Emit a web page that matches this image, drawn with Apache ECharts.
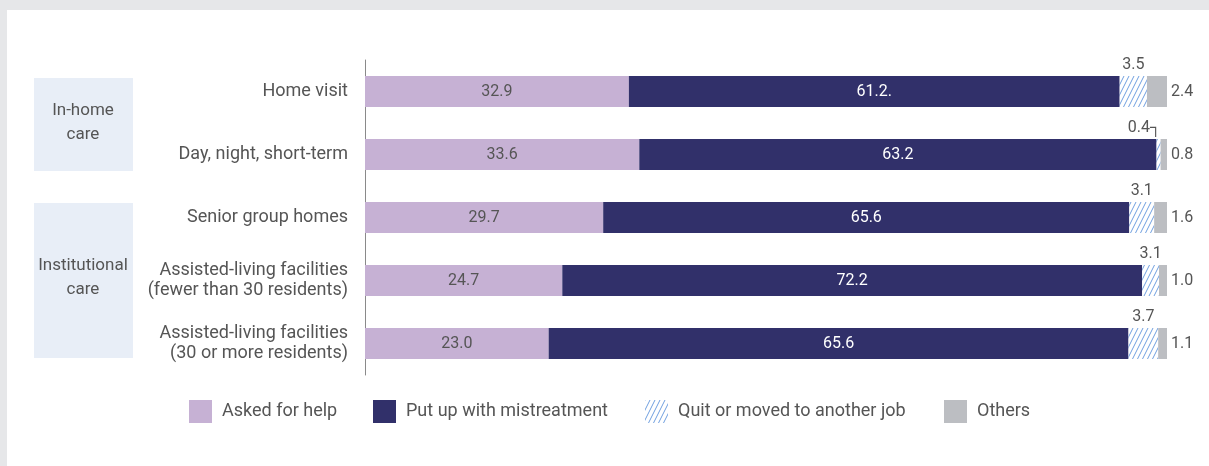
<!DOCTYPE html>
<html>
<head>
<meta charset="utf-8">
<script src="https://cdn.jsdelivr.net/npm/echarts@6/dist/echarts.min.js"></script>
<style>
html, body { margin: 0; padding: 0; background: #e6e7e9; }
#chart {
  position: absolute;
  left: 7px;
  top: 10px;
  width: 1202px;
  height: 456px;
  background: #fff;
}
</style>
</head>
<body>
<div id="chart"></div>
<script>
// categories (top to bottom)
const categories = [
  'Home visit',
  'Day, night, short-term',
  'Senior group homes',
  'Assisted-living facilities\n(fewer than 30 residents)',
  'Assisted-living facilities\n(30 or more residents)'
]
const groups = ['In-home\ncare', 'Institutional\ncare']

// bar lengths as drawn (share of 100)
const askedHelp = [32.9, 34.2, 29.7, 24.6, 22.9]
const putUp = [61.2, 64.5, 65.6, 72.3, 72.3]
const quitJob = [3.4, 0.5, 3.1, 2.1, 3.7]
const others = [2.5, 0.8, 1.6, 1.0, 1.1]

// printed value labels
const askedHelpLabels = ['32.9', '33.6', '29.7', '24.7', '23.0']
const putUpLabels = ['61.2.', '63.2', '65.6', '72.2', '65.6']
const quitJobLabels = ['3.5', '0.4┐', '3.1', '3.1', '3.7']
const othersLabels = ['2.4', '0.8', '1.6', '1.0', '1.1']

const seriesNames = ['Asked for help', 'Put up with mistreatment', 'Quit or moved to another job', 'Others']

const FONT = 'Roboto, "Liberation Sans", sans-serif'
const TEXT = '#555'

function hatchPattern() {
  const c = document.createElement('canvas')
  c.width = 5
  c.height = 10
  const ctx = c.getContext('2d')
  ctx.fillStyle = '#fff'
  ctx.fillRect(0, 0, 5, 10)
  ctx.strokeStyle = '#6f9fdf'
  ctx.lineWidth = 1
  ctx.beginPath()
  ctx.moveTo(-5, 10); ctx.lineTo(0, 0)
  ctx.moveTo(0, 10); ctx.lineTo(5, 0)
  ctx.moveTo(5, 10); ctx.lineTo(10, 0)
  ctx.stroke()
  return { image: c, repeat: 'repeat' }
}

const colors = ['#c6b1d4', '#31306a', hatchPattern(), '#bcbec2']

function makeSeries(i, values, labels, labelOpt) {
  return {
    name: seriesNames[i],
    type: 'bar',
    stack: 'total',
    barWidth: 31,
    itemStyle: { color: colors[i] },
    label: Object.assign({
      show: true,
      fontFamily: FONT,
      fontSize: 16,
      formatter: p => labels[p.dataIndex]
    }, labelOpt),
    emphasis: { disabled: true },
    data: values.map((v, k) => {
      if (i === 2 && k === 1) {
        return { value: v, label: { offset: [-14, 0] } }
      }
      return v
    })
  }
}

const legendLefts = [177, 361, 633, 932]

const option = {
  animation: false,
  textStyle: { fontFamily: FONT },
  grid: { left: 358, right: 42, top: 50, bottom: 91 },
  xAxis: {
    type: 'value',
    min: 0,
    max: 100,
    show: false
  },
  yAxis: {
    type: 'category',
    inverse: true,
    data: categories,
    axisLine: { show: true, lineStyle: { color: '#8a8a8a', width: 1 } },
    axisTick: { show: false },
    axisLabel: {
      color: TEXT,
      fontSize: 18,
      fontFamily: FONT,
      margin: 17,
      lineHeight: 20,
      align: 'right'
    }
  },
  legend: seriesNames.map((n, i) => ({
    data: [n],
    left: legendLefts[i],
    top: 385,
    icon: 'rect',
    itemWidth: 23,
    itemHeight: 23,
    selectedMode: false,
    textStyle: { color: TEXT, fontSize: 18, fontFamily: FONT, padding: [0, 0, 0, 5] }
  })),
  graphic: [
    {
      type: 'rect',
      left: 27, top: 68,
      shape: { width: 99, height: 93 },
      style: { fill: '#e8eef7' },
      silent: true
    },
    {
      type: 'rect',
      left: 27, top: 193,
      shape: { width: 99, height: 155 },
      style: { fill: '#e8eef7' },
      silent: true
    },
    {
      type: 'text',
      x: 76, y: 113,
      style: {
        text: groups[0], fill: TEXT, font: '17px ' + FONT,
        align: 'center', verticalAlign: 'middle', lineHeight: 24
      }
    },
    {
      type: 'text',
      x: 76, y: 268,
      style: {
        text: groups[1], fill: TEXT, font: '17px ' + FONT,
        align: 'center', verticalAlign: 'middle', lineHeight: 24
      }
    }
  ],
  series: [
    makeSeries(0, askedHelp, askedHelpLabels, { position: 'inside', color: TEXT }),
    makeSeries(1, putUp, putUpLabels, { position: 'inside', color: '#fff' }),
    makeSeries(2, quitJob, quitJobLabels, { position: 'top', distance: 3, color: TEXT }),
    makeSeries(3, others, othersLabels, { position: 'right', distance: 4, color: TEXT })
  ]
}

const myChart = echarts.init(document.getElementById('chart'))
myChart.setOption(option)
</script>
</body>
</html>
